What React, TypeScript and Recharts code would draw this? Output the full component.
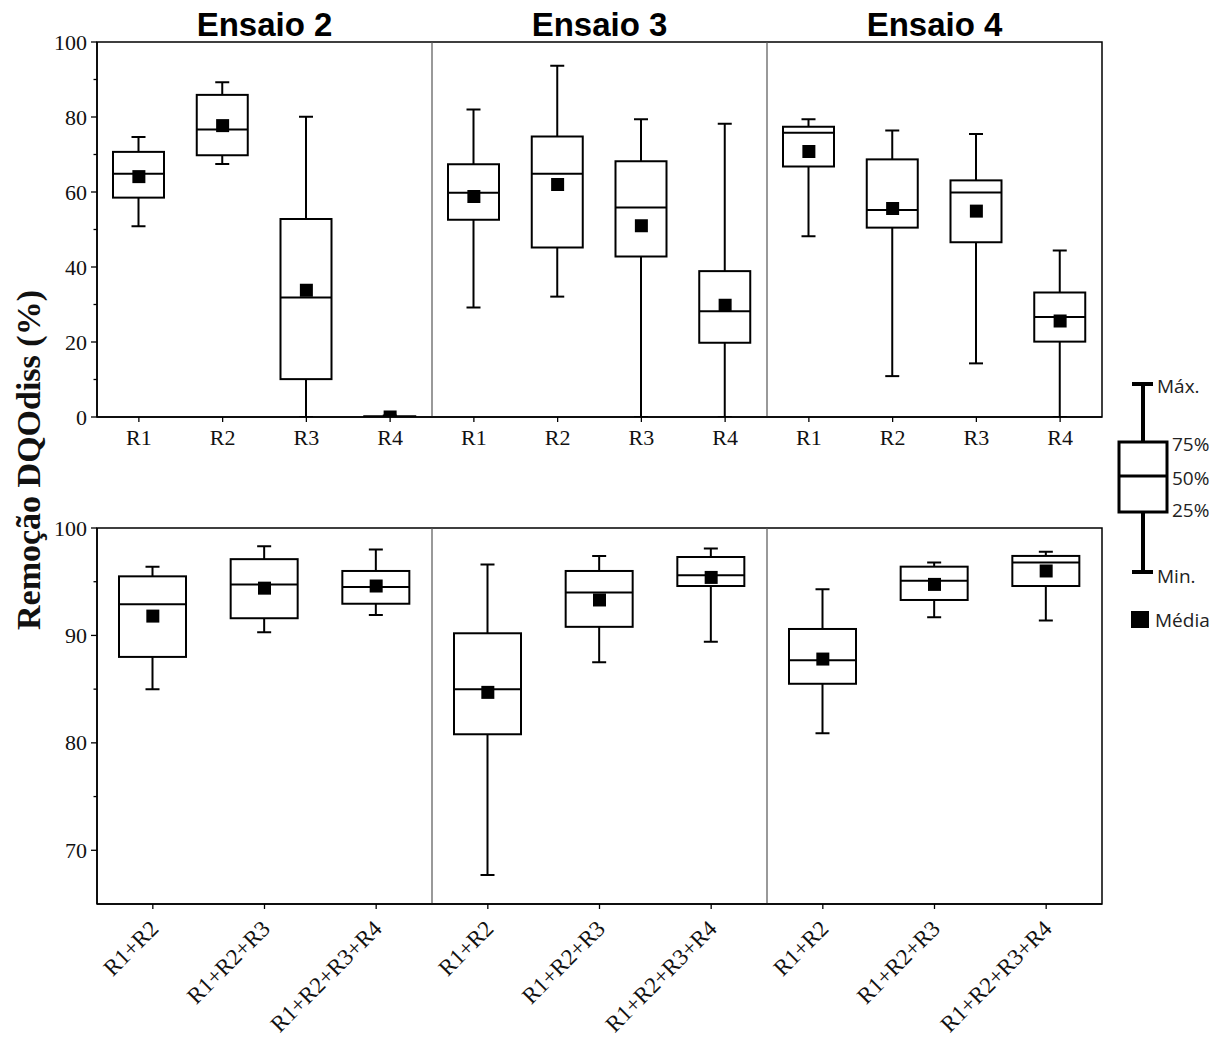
import React from 'react';
import {
  ComposedChart, Bar, Scatter, XAxis, YAxis, ReferenceLine, ReferenceArea, Legend,
} from 'recharts';

// ---------- Data ----------
const ensaios = ['Ensaio 2', 'Ensaio 3', 'Ensaio 4'];

const topLabels = ['R1', 'R2', 'R3', 'R4', 'R1', 'R2', 'R3', 'R4', 'R1', 'R2', 'R3', 'R4'];
const topMin = [50.9, 67.5, 0, 0, 29.2, 32.1, 0, 0, 48.2, 10.9, 14.3, 0];
const topQ1 = [58.5, 69.8, 10.1, 0, 52.6, 45.2, 42.8, 19.8, 66.8, 50.5, 46.6, 20.1];
const topMedian = [64.9, 76.7, 31.9, 0, 59.8, 64.9, 55.9, 28.2, 75.8, 55.2, 59.9, 26.7];
const topQ3 = [70.7, 85.9, 52.8, 0.2, 67.4, 74.8, 68.2, 38.9, 77.4, 68.7, 63.1, 33.2];
const topMax = [74.7, 89.3, 80.1, 0.4, 82.0, 93.7, 79.4, 78.2, 79.4, 76.4, 75.5, 44.4];
const topMean = [64.1, 77.7, 33.8, 0, 58.8, 62.0, 51.0, 29.8, 70.8, 55.6, 54.9, 25.6];
const topTicks = [0, 10, 20, 30, 40, 50, 60, 70, 80, 90, 100];

const botLabels = ['R1+R2', 'R1+R2+R3', 'R1+R2+R3+R4', 'R1+R2', 'R1+R2+R3', 'R1+R2+R3+R4', 'R1+R2', 'R1+R2+R3', 'R1+R2+R3+R4'];
const botMin = [85.0, 90.3, 91.9, 67.7, 87.5, 89.4, 80.9, 91.7, 91.4];
const botQ1 = [88.0, 91.6, 92.95, 80.8, 90.8, 94.6, 85.5, 93.3, 94.6];
const botMedian = [92.9, 94.75, 94.5, 85.0, 94.0, 95.6, 87.7, 95.1, 96.8];
const botQ3 = [95.5, 97.1, 96.0, 90.2, 96.0, 97.3, 90.6, 96.4, 97.4];
const botMax = [96.4, 98.3, 98.0, 96.6, 97.4, 98.1, 94.3, 96.8, 97.8];
const botMean = [91.8, 94.4, 94.6, 84.7, 93.3, 95.4, 87.8, 94.75, 96.0];
const botTicks = [70, 75, 80, 85, 90, 95, 100];
const majorTop = [0, 20, 40, 60, 80, 100];
const majorBot = [70, 80, 90, 100];

const yLabel = 'Remoção DQOdiss (%)';
const legendItems = ['Máx.', '75%', '50%', '25%', 'Min.', 'Média'];

// ---------- Build tables ----------
const build = (labels: string[], mn: number[], q1: number[], md: number[], q3: number[], mx: number[], me: number[]) =>
  labels.map((l, i) => ({
    id: `c${i}`,
    label: l,
    range: [mn[i], mx[i]],
    min: mn[i], q1: q1[i], median: md[i], q3: q3[i], max: mx[i], mean: me[i],
  }));

const topData = build(topLabels, topMin, topQ1, topMedian, topQ3, topMax, topMean);
const botData = build(botLabels, botMin, botQ1, botMedian, botQ3, botMax, botMean);

const SERIF = '"Liberation Serif", "Times New Roman", serif';
const SANS = '"Liberation Sans", Arial, sans-serif';
const LEGEND_FONT = '"Open Sans", "Noto Sans", sans-serif';

const makeBox = (capW: number) => (props: any) => {
  const { x, y, width, height } = props;
  const p = props.payload ?? props;
  const top = Math.min(y, y + height);
  const bot = Math.max(y, y + height);
  const span = p.max - p.min;
  const py = (v: number) => (span === 0 ? top : bot - ((v - p.min) / span) * (bot - top));
  const cx = x + width / 2;
  const yQ3 = py(p.q3), yQ1 = py(p.q1), yMd = py(p.median);
  return (
    <g stroke="#000" strokeWidth={2} fill="none">
      <line x1={cx} x2={cx} y1={top} y2={yQ3} />
      <line x1={cx} x2={cx} y1={yQ1} y2={bot} />
      <line x1={cx - capW / 2} x2={cx + capW / 2} y1={top} y2={top} />
      <line x1={cx - capW / 2} x2={cx + capW / 2} y1={bot} y2={bot} />
      <rect x={x} y={yQ3} width={width} height={Math.max(0, yQ1 - yQ3)} fill="#fff" />
      <line x1={x} x2={x + width} y1={yMd} y2={yMd} />
    </g>
  );
};

const MeanSquare = (props: any) => {
  const { cx, cy } = props;
  if (cx == null || cy == null) return null;
  const s = 13;
  return <rect x={cx - s / 2} y={cy - s / 2} width={s} height={s} fill="#000" />;
};

const makeYTick = (majors: number[]) => (props: any) => {
  const { x, y, payload } = props;
  const v = payload.value;
  const major = majors.includes(v);
  return (
    <g>
      <line x1={x} x2={x - (major ? 6 : 3.5)} y1={y} y2={y} stroke="#000" strokeWidth={1.3} />
      {major && (
        <text x={x - 10} y={y} textAnchor="end" dominantBaseline="central" fontFamily={SERIF} fontSize={22} fill="#111">
          {v}
        </text>
      )}
    </g>
  );
};

const TopXTick = (props: any) => {
  const { x, y, index } = props;
  return (
    <g>
      <line x1={x} x2={x} y1={y} y2={y + 5} stroke="#000" strokeWidth={1.3} />
      <text x={x} y={y + 28} textAnchor="middle" fontFamily={SERIF} fontSize={22} fill="#111">
        {topLabels[index]}
      </text>
    </g>
  );
};

const BotXTick = (props: any) => {
  const { x, y, index } = props;
  const ax = x + 7;
  const ay = y + 26;
  return (
    <g>
      <line x1={x} x2={x} y1={y} y2={y + 5} stroke="#000" strokeWidth={1.3} />
      <text x={ax} y={ay} textAnchor="end" transform={`rotate(-45, ${ax}, ${ay})`} fontFamily={SERIF} fontSize={23} fill="#111">
        {botLabels[index]}
      </text>
    </g>
  );
};

const titleLabel = (text: string) => (props: any) => {
  const vb = props.viewBox;
  if (!vb) return null;
  return (
    <text x={vb.x + vb.width / 2} y={vb.y - 6} textAnchor="middle" fontFamily={SANS} fontWeight="bold" fontSize={33} fill="#000">
      {text}
    </text>
  );
};

const LegendContent = () => (
  <svg width={125} height={270} style={{ display: 'block' }}>
    <g transform="translate(-1100,-370)">
      <line x1={1143} x2={1143} y1={384} y2={572} stroke="#000" strokeWidth={4} />
      <line x1={1132} x2={1153} y1={384} y2={384} stroke="#000" strokeWidth={4} />
      <line x1={1132} x2={1153} y1={572} y2={572} stroke="#000" strokeWidth={4} />
      <rect x={1119} y={442} width={48} height={70} fill="#fff" stroke="#000" strokeWidth={3} />
      <line x1={1119} x2={1167} y1={476} y2={476} stroke="#000" strokeWidth={3} />
      <rect x={1131} y={611} width={18} height={17} fill="#000" />
      <g fontFamily={LEGEND_FONT} fontSize={19} fill="#222" dominantBaseline="central">
        <text x={1157} y={386}>{legendItems[0]}</text>
        <text x={1172} y={444}>{legendItems[1]}</text>
        <text x={1172} y={478}>{legendItems[2]}</text>
        <text x={1172} y={510}>{legendItems[3]}</text>
        <text x={1157} y={576}>{legendItems[4]}</text>
        <text x={1155} y={620}>{legendItems[5]}</text>
      </g>
    </g>
  </svg>
);

export default function App() {
  const tn = topData.length;
  const bn = botData.length;
  return (
    <div style={{ position: 'absolute', left: 0, top: 0, width: 1225, height: 1046, background: '#fff' }}>
      <div style={{ position: 'absolute', left: 0, top: 0 }}>
        <ComposedChart
          width={1225}
          height={470}
          data={topData}
          margin={{ top: 42, right: 123, bottom: 13, left: 37 }}
          barCategoryGap={0}
        >
          <XAxis xAxisId="cat" dataKey="id" type="category" interval={0} height={40}
            axisLine={{ stroke: '#000', strokeWidth: 1.5 }} tickLine={false} tickSize={0} tickMargin={0}
            tick={<TopXTick />} />
          <YAxis type="number" domain={[0, 100]} ticks={topTicks} width={60} allowDataOverflow
            axisLine={{ stroke: '#000', strokeWidth: 1.5 }} tickLine={false} tickSize={0} tickMargin={0}
            tick={makeYTick(majorTop)} />
          <ReferenceArea xAxisId="cat" x1={topData[0].id} x2={topData[tn - 1].id} y1={0} y2={100} fill="none" stroke="#000" strokeWidth={1.5} fillOpacity={0} />
          {ensaios.map((e, k) => (
            <ReferenceArea key={e} xAxisId="cat" x1={topData[k * 4].id} x2={topData[k * 4 + 3].id} y1={0} y2={100}
              fill="none" stroke="none" fillOpacity={0} label={titleLabel(e)} />
          ))}
          <ReferenceLine xAxisId="cat" x={topData[4].id} position="start" stroke="#555" strokeWidth={1.2} />
          <ReferenceLine xAxisId="cat" x={topData[8].id} position="start" stroke="#555" strokeWidth={1.2} />
          <Bar xAxisId="cat" dataKey="range" barSize={51} shape={makeBox(14)} isAnimationActive={false} />
          <Scatter xAxisId="cat" dataKey="mean" shape={<MeanSquare />} isAnimationActive={false} />
          <Legend layout="vertical" align="center" verticalAlign="middle" content={<LegendContent />}
            wrapperStyle={{ position: 'absolute', left: 1100, top: 370, width: 125, height: 270 }} />
        </ComposedChart>
      </div>
      <div style={{ position: 'absolute', left: 0, top: 480 }}>
        <ComposedChart
          width={1225}
          height={566}
          data={botData}
          margin={{ top: 48, right: 123, bottom: 22, left: 37 }}
          barCategoryGap={0}
        >
          <XAxis xAxisId="cat" dataKey="id" type="category" interval={0} height={120}
            axisLine={{ stroke: '#000', strokeWidth: 1.5 }} tickLine={false} tickSize={0} tickMargin={0}
            tick={<BotXTick />} />
          <YAxis type="number" domain={[65, 100]} ticks={botTicks} width={60} allowDataOverflow
            axisLine={{ stroke: '#000', strokeWidth: 1.5 }} tickLine={false} tickSize={0} tickMargin={0}
            tick={makeYTick(majorBot)} />
          <ReferenceArea xAxisId="cat" x1={botData[0].id} x2={botData[bn - 1].id} y1={65} y2={100} fill="none" stroke="#000" strokeWidth={1.5} fillOpacity={0} />
          <ReferenceLine xAxisId="cat" x={botData[3].id} position="start" stroke="#555" strokeWidth={1.2} />
          <ReferenceLine xAxisId="cat" x={botData[6].id} position="start" stroke="#555" strokeWidth={1.2} />
          <Bar xAxisId="cat" dataKey="range" barSize={67} shape={makeBox(14)} isAnimationActive={false} />
          <Scatter xAxisId="cat" dataKey="mean" shape={<MeanSquare />} isAnimationActive={false} />
        </ComposedChart>
      </div>
      <svg style={{ position: 'absolute', left: 0, top: 0 }} width={80} height={1046}>
        <text x={40} y={460} transform="rotate(-90, 40, 460)" textAnchor="middle" fontFamily={SERIF} fontWeight="bold" fontSize={34} fill="#111">
          {yLabel}
        </text>
      </svg>
    </div>
  );
}
